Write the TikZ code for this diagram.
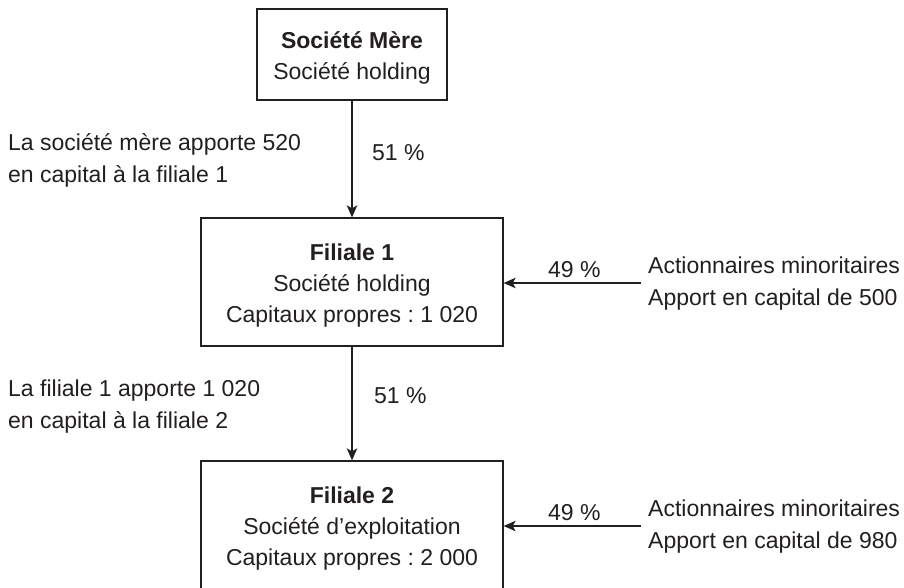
\documentclass[tikz,border=0pt]{standalone}
\usepackage{fontspec}
\setmainfont{Liberation Sans}
\usetikzlibrary{arrows.meta}
\definecolor{ink}{HTML}{231F20}
\newcommand{\topgap}{\rule{0pt}{24pt}}
\begin{document}
\begin{tikzpicture}[x=1pt,y=-1pt,
  every node/.style={text=ink,font=\fontsize{23}{32}\selectfont\frenchspacing},
  box/.style={draw=ink,line width=1.3pt,align=center,inner sep=0pt,
    font=\fontsize{23}{31}\selectfont\frenchspacing},
  lbl/.style={inner sep=0pt,align=left},
  arr/.style={draw=ink,line width=1.3pt,-{Stealth[length=12pt,width=10.5pt,inset=3pt]}}]
\useasboundingbox[fill=white] (0,0) rectangle (904,588);
\node[box,minimum width=190pt,minimum height=91pt] (mere) at (352,54.5)
  {\topgap\textbf{Société Mère}\\Société holding};
\node[box,minimum width=302pt,minimum height=128pt] (f1) at (352,282)
  {\topgap\textbf{Filiale 1}\\Société holding\\Capitaux propres : 1 020};
\node[box,minimum width=302pt,minimum height=128pt] (f2) at (352,525)
  {\topgap\textbf{Filiale 2}\\Société d’exploitation\\Capitaux propres : 2 000};
\draw[arr] (mere.south) -- (f1.north);
\draw[arr] (f1.south) -- (f2.north);
\coordinate (m1) at (641,283);
\coordinate (m2) at (641,526);
\draw[arr] (m1) -- (m1 -| f1.east);
\draw[arr] (m2) -- (m2 -| f2.east);
\node[lbl,anchor=west] (t1) at (8,160) {La société mère apporte 520\\en capital à la filiale 1};
\node[lbl,anchor=west] (t2) at (8,407) {La filiale 1 apporte 1 020\\en capital à la filiale 2};
\node[lbl,anchor=base west] (p1) at (372,161) {51 \%};
\node[lbl,anchor=base west] (p2) at (374,403) {51 \%};
\node[lbl,anchor=base west] (q1) at (548,277) {49 \%};
\node[lbl,anchor=base west] (q2) at (548,520) {49 \%};
\node[lbl,anchor=west] (r1) at (648,284) {Actionnaires minoritaires\\Apport en capital de 500};
\node[lbl,anchor=west] (r2) at (648,527) {Actionnaires minoritaires\\Apport en capital de 980};
\end{tikzpicture}
\end{document}
